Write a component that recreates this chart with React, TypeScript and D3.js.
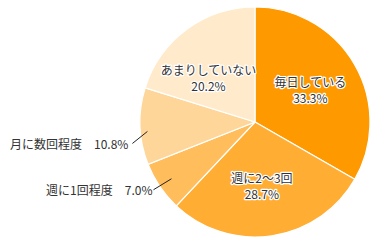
import React from "react";
import * as d3 from "d3";

const categories = ["毎日している", "週に2～3回", "週に1回程度", "月に数回程度", "あまりしていない"];
const values = [33.3, 28.7, 7.0, 10.8, 20.2];
const valueLabels = ["33.3%", "28.7%", "7.0%", "10.8%", "20.2%"];
const colors = ["#ff9900", "#ffad33", "#ffbd5c", "#ffd699", "#ffebcc"];
const inside = [true, true, false, false, true];

const W = 384, H = 240;
const cx = 255, cy = 122, R = 115;
// label placement styling (angle nudge in radians, radius)
const labelNudge = [0, 0.04, 0, -0.05, -0.18];
const leaderStartR = [0, 0, 101, 108, 0];
const leaderDx = [0, 0, -18, -15, 0];
const leaderDy = [0, 0, 11, 12, 0];
const textGap = [0, 0, 1, 4, 0];
const textDy = [0, 0, 5, 6, 0];

export default function App() {
  const pie = d3.pie<number>().sort(null).value((d) => d)(values);
  const arc = d3.arc<d3.PieArcDatum<number>>().innerRadius(0).outerRadius(R);
  const font = "'Noto Sans CJK JP', 'Noto Sans', sans-serif";
  return (
    <svg width={W} height={H} style={{ position: "absolute", left: 0, top: 0 }}>
      <rect width={W} height={H} fill="#fff" />
      <g transform={`translate(${cx},${cy})`}>
        {pie.map((p, i) => (
          <path key={i} d={arc(p) || ""} fill={colors[i]} stroke="#fff" strokeWidth={1.2} />
        ))}
        {pie.map((p, i) => {
          const mid = (p.startAngle + p.endAngle) / 2 + labelNudge[i];
          if (inside[i]) {
            const r = 64;
            const x = r * Math.sin(mid);
            const y = -r * Math.cos(mid);
            return (
              <g key={"l" + i} fontFamily={font} fontSize={12} fill="#333" textAnchor="middle"
                stroke="#fff" strokeWidth={2.5} paintOrder="stroke" strokeLinejoin="round">
                <text x={x} y={y - 3}>{categories[i]}</text>
                <text x={x} y={y + 13}>{valueLabels[i]}</text>
              </g>
            );
          }
          const r1 = leaderStartR[i];
          const x1 = r1 * Math.sin(mid), y1 = -r1 * Math.cos(mid);
          const x2 = x1 + leaderDx[i], y2 = y1 + leaderDy[i];
          return (
            <g key={"o" + i}>
              <line x1={x1} y1={y1} x2={x2} y2={y2} stroke="#222" strokeWidth={1} />
              <text x={x2 - textGap[i]} y={y2 + textDy[i]} textAnchor="end" fontFamily={font} fontSize={12} fill="#333">
                {categories[i]}{"　"}{valueLabels[i]}
              </text>
            </g>
          );
        })}
      </g>
    </svg>
  );
}
